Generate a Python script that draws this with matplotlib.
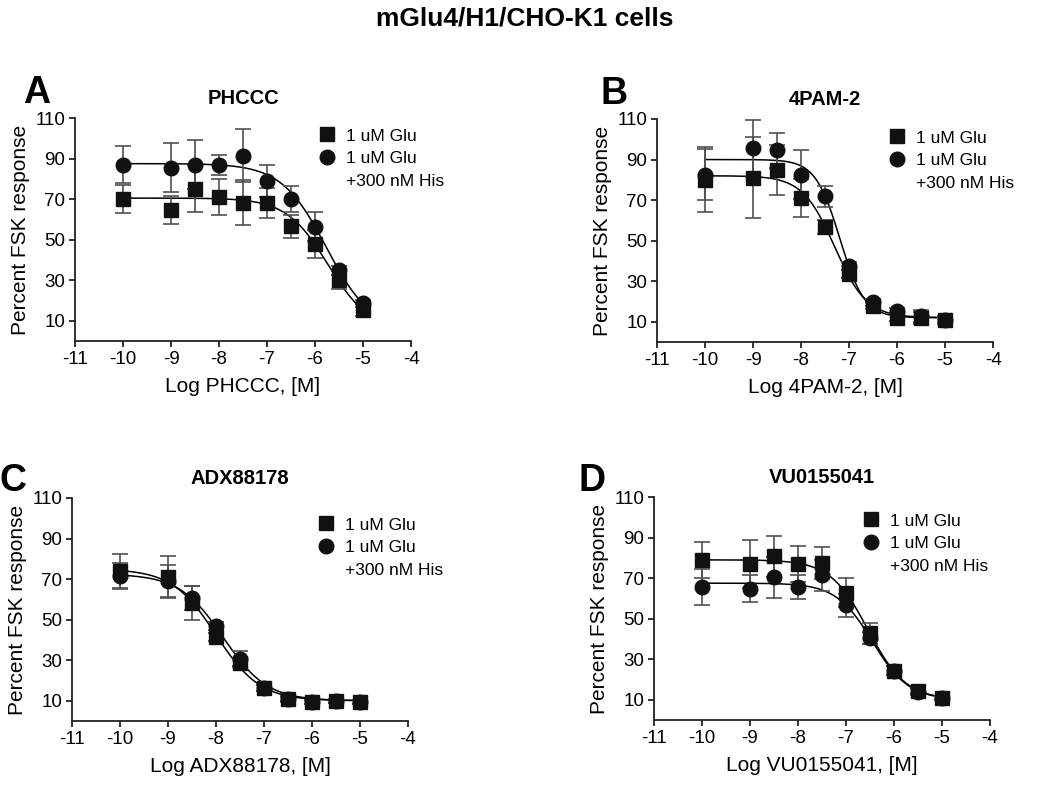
import numpy as np
import matplotlib as m
m.use('Agg')
import matplotlib.pyplot as plt
from matplotlib.lines import Line2D

plt.rcParams['font.family'] = ['Liberation Sans', 'DejaVu Sans']
plt.rcParams['axes.unicode_minus'] = False

log_conc = [-10, -9, -8.5, -8, -7.5, -7, -6.5, -6, -5.5, -5]

# A: PHCCC
phccc_glu = [70, 64.5, 75, 71, 68.3, 68, 56.5, 47.7, 30, 15.2]
phccc_glu_err = [7, 7, 11.6, 9, 11, 7.5, 5.5, 7, 4.5, 3]
phccc_his = [87, 85.5, 87, 86.7, 91.5, 78.8, 70, 56.4, 34.8, 18.5]
phccc_his_err = [9, 12, 12, 5, 13, 8, 6.5, 7, 2, 1.5]

# B: 4PAM-2
pam_glu = [80, 81, 84.8, 71, 56.7, 33.7, 18, 12, 12, 11]
pam_glu_err = [16, 20, 12.5, 9.5, 3.6, 2, 1.5, 1.5, 3, 2]
pam_his = [82.5, 95.5, 94.5, 82.5, 71.8, 37.5, 19.5, 15.5, 13, 11]
pam_his_err = [12.7, 14, 8.5, 12, 5, 2, 1.5, 1.5, 3, 1.5]

# C: ADX88178
adx_glu = [74, 71, 58.4, 41.3, 28.7, 16.5, 11, 9.5, 10, 9.5]
adx_glu_err = [8.3, 10.5, 8.4, 2, 2, 1.5, 1.5, 1, 1, 1]
adx_his = [71.5, 69, 60.6, 47, 30.7, 16.5, 11, 9.5, 10, 9.2]
adx_his_err = [6.5, 8, 6, 2, 3.7, 1.5, 1, 1, 1, 1]

# D: VU0155041
vu_glu = [79, 77, 80.7, 77, 77.5, 62.8, 42.7, 24.4, 14.5, 11]
vu_glu_err = [9, 12, 10.3, 9, 8, 7, 5, 2, 1.5, 1]
vu_his = [65.5, 64.8, 70.4, 65.5, 71.3, 56.6, 40.5, 24.4, 14, 11]
vu_his_err = [9, 6.5, 10, 6, 7.7, 5.6, 3, 2, 1.5, 1]

# fitted 4PL params: top, bottom, logIC50, hill
fits = {
  'PHCCC': [(70.5, 5, -5.73, 1.0), (87.5, 5, -5.765, 0.93)],
  '4PAM-2': [(82, 12, -7.3, 1.3), (90, 12, -7.19, 1.7)],
  'ADX88178': [(75, 10, -8.0, 0.95), (72.5, 10, -7.85, 0.95)],
  'VU0155041': [(79, 10, -6.54, 1.1), (67.5, 10, -6.45, 1.15)],
}

panels = [
  ('A', 'PHCCC', phccc_glu, phccc_glu_err, phccc_his, phccc_his_err),
  ('B', '4PAM-2', pam_glu, pam_glu_err, pam_his, pam_his_err),
  ('C', 'ADX88178', adx_glu, adx_glu_err, adx_his, adx_his_err),
  ('D', 'VU0155041', vu_glu, vu_glu_err, vu_his, vu_his_err),
]

# layout in pixels
W, H = 1050, 790
boxes = [(75, 118, 341), (657, 119, 342), (72, 498, 721), (654, 497, 720)]
letter_pos = [(37, 93), (614, 94), (13, 481), (592, 481)]
legend_pos = [(327, 135), (897, 137), (326, 524), (871, 520)]
xscale = 48.0


def fourpl(x, top, bottom, c, h):
  return bottom + (top - bottom) / (1 + 10 ** (h * (x - c)))


fig = plt.figure(figsize=(10.5, 7.9), dpi=100)
fig.text(0.5, 1 - 19 / H, 'mGlu4/H1/CHO-K1 cells', ha='center', va='center',
         fontsize=19, fontweight='bold')

lw = 1.3
leg_fs = 12.5
for i, ((letter, name, glu, glu_err, his, his_err), (l, t, b)) in enumerate(zip(panels, boxes)):
  ax = fig.add_axes([l / W, 1 - b / H, 7 * xscale / W, (b - t) / H])
  xs = np.linspace(-10, -5, 200)
  for p in fits[name]:
    ax.plot(xs, fourpl(xs, *p), color='black', lw=1.1, zorder=2)
  ax.errorbar(log_conc, glu, yerr=glu_err, fmt='s', color='#111111', ecolor='#505050',
              ms=9.5, elinewidth=1.2, capsize=5.5, capthick=1.2, zorder=3)
  ax.errorbar(log_conc, his, yerr=his_err, fmt='o', color='#111111', ecolor='#505050',
              ms=10.5, elinewidth=1.2, capsize=5.5, capthick=1.2, zorder=3)
  ax.set_xlim(-11, -4)
  ax.set_ylim(0, 110)
  ax.set_xticks(range(-11, -3))
  ax.set_yticks(range(10, 111, 20))
  ax.spines['top'].set_visible(False)
  ax.spines['right'].set_visible(False)
  for s in ['left', 'bottom']:
    ax.spines[s].set_linewidth(lw)
    ax.spines[s].set_color('#222222')
  ax.tick_params(direction='out', length=4, width=lw, labelsize=13.5, color='#222222', pad=3)
  ax.set_xlabel('Log ' + name + ', [M]', fontsize=15, labelpad=7)
  ax.set_ylabel('Percent FSK response', fontsize=15, labelpad=4)
  ax.set_title(name, fontsize=14.5, fontweight='bold', pad=10)

  lx, ly = letter_pos[i]
  fig.text(lx / W, 1 - ly / H, letter, fontsize=27, fontweight='bold', ha='center', va='center')

  handles = [Line2D([], [], marker='s', ls='none', color='#111111', ms=9.5),
             Line2D([], [], marker='o', ls='none', color='#111111', ms=10.5),
             Line2D([], [], ls='none', marker='none')]
  mx, my = legend_pos[i]
  fpx = leg_fs * 100 / 72
  ax.legend(handles, ['1 uM Glu', '1 uM Glu', '+300 nM His'], loc='upper left',
            bbox_to_anchor=((mx - 0.5 * fpx) / W, 1 - (my - 0.38 * fpx) / H),
            bbox_transform=fig.transFigure,
            frameon=False, fontsize=leg_fs, handlelength=1.0, handletextpad=0.6,
            borderpad=0, borderaxespad=0, labelspacing=0.44)

plt.savefig('out.png', dpi=100)
